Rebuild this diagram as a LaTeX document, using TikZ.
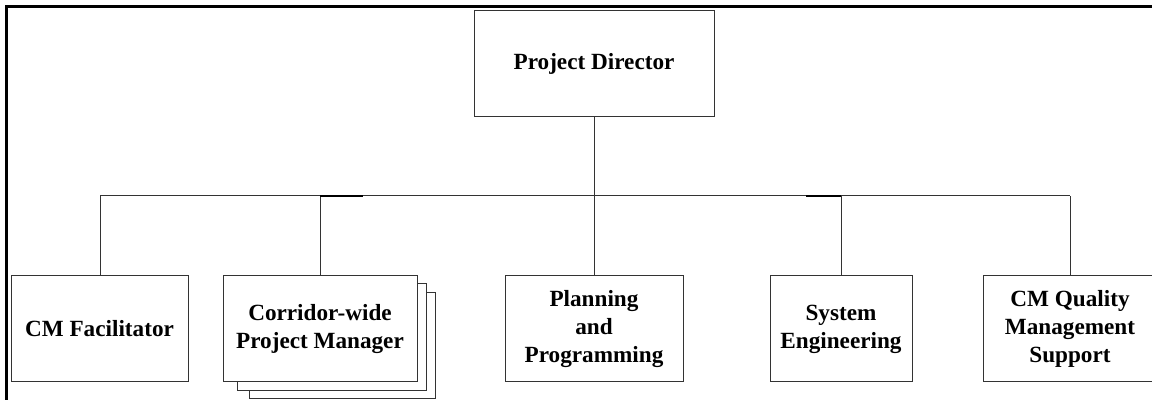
\documentclass[tikz,border=0pt]{standalone}
\usepackage{fontspec}
\setmainfont{Liberation Serif}
\begin{document}
\begin{tikzpicture}[x=0.5pt,y=-0.5pt,
  line/.style={draw=black!80, line width=0.5pt},
  box/.style={line, fill=white, rectangle, align=center, inner sep=0pt,
    font=\fontsize{11.6}{14}\selectfont\bfseries, minimum height=53pt},
  frame/.style={draw=black, line width=1.5pt},
  thickbit/.style={draw=black, line width=1.1pt}]
\useasboundingbox (0,0) rectangle (1152,400);
\clip (0,0) rectangle (1152,400);
% frame (top and left edges only visible)
\draw[frame] (6.5,420) -- (6.5,6.5) -- (1170,6.5);
% boxes
\node[box, minimum width=120pt] (pd) at (594,64) {Project Director};
\node[box, minimum width=88.5pt] (cmf) at (99.5,329) {CM Facilitator};
\node[box, minimum width=93pt, minimum height=53pt] (cor3) at (342,346) {};
\node[box, minimum width=94.5pt, minimum height=53.5pt] (cor2) at (331.5,337.5) {};
\node[box, minimum width=97pt] (cor) at (320,329) {Corridor-wide\\Project Manager};
\node[box, minimum width=89pt] (plan) at (594,329) {Planning\\and\\Programming};
\node[box, minimum width=71pt] (sys) at (841,329) {System\\Engineering};
\node[box, minimum width=87pt] (cmq) at (1070,329) {CM Quality\\Management\\Support};
% bus
\coordinate (busL) at (100,196);
\coordinate (busR) at (1070,196);
\draw[line] (busL) -- (busR);
\draw[line] (pd.south) -- (pd.south |- busL);
\draw[line] (cmf.north -| busL) -- (busL);
\draw[line] (cor.north) -- (cor.north |- busL);
\draw[line] (plan.north) -- (plan.north |- busL);
\draw[line] (sys.north) -- (sys.north |- busL);
\draw[line] (cmq.north) -- (cmq.north |- busL);
% slightly heavier bus segments
\coordinate (t1a) at (320,196);
\coordinate (t1b) at (363,196);
\coordinate (t2a) at (806,196);
\coordinate (t2b) at (841,196);
\draw[thickbit] (t1a) -- (t1b);
\draw[thickbit] (t2a) -- (t2b);
\end{tikzpicture}
\end{document}
